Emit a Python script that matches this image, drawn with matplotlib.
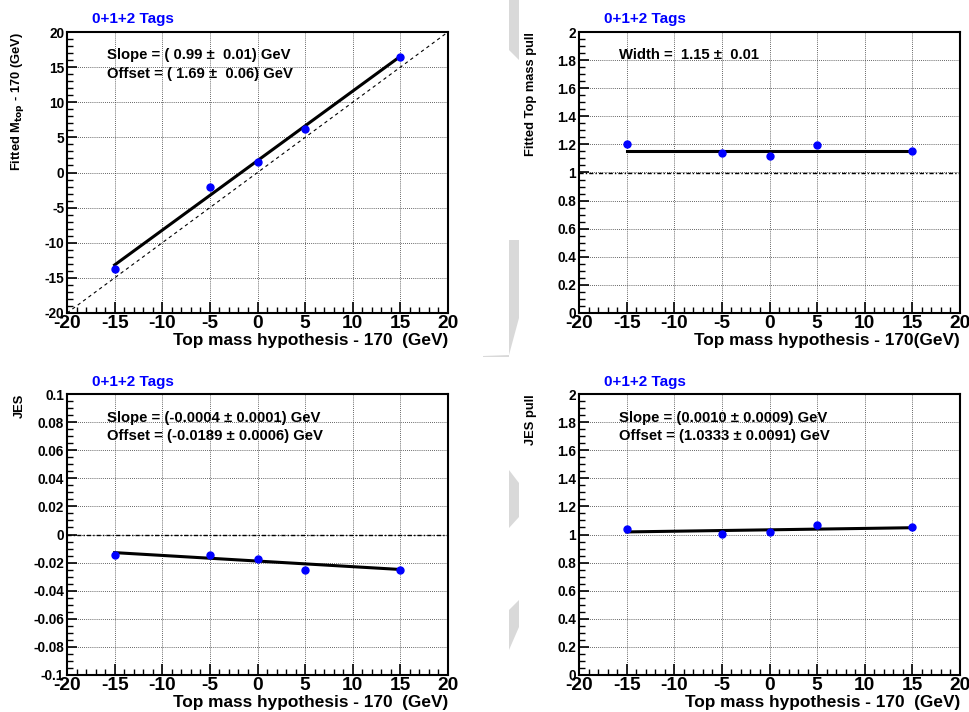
import matplotlib
matplotlib.use("Agg")
import matplotlib.pyplot as plt
import numpy as np
from matplotlib.ticker import MultipleLocator, FuncFormatter
from matplotlib.patches import Polygon

plt.rcParams['font.family'] = ['Liberation Sans', 'DejaVu Sans']
plt.rcParams['font.weight'] = 'bold'
plt.rcParams['axes.unicode_minus'] = False

# ---------------- data ----------------
mass_hyp = [-15, -5, 0, 5, 15]

fitted_mtop = [-13.7, -2.0, 1.5, 6.2, 16.5]
fitted_mtop_err = [0.25, 0.25, 0.25, 0.25, 0.25]
mtop_slope, mtop_offset = 0.99, 1.69

mtop_pull = [1.200, 1.138, 1.115, 1.196, 1.155]
mtop_pull_err = [0.012, 0.012, 0.012, 0.012, 0.012]
mtop_width = 1.155

jes = [-0.0148, -0.0145, -0.0175, -0.0255, -0.0252]
jes_err = [0.0008, 0.0008, 0.0008, 0.0008, 0.0008]
jes_slope, jes_offset = -0.0004, -0.0189

jes_pull = [1.040, 1.005, 1.020, 1.065, 1.050]
jes_pull_err = [0.008, 0.008, 0.008, 0.008, 0.008]
jespull_slope, jespull_offset = 0.0010, 1.0333

title_text = "0+1+2 Tags"
xlabel_a = "Top mass hypothesis - 170  (GeV)"
xlabel_b = "Top mass hypothesis - 170(GeV)"

W, H = 969, 712
fig = plt.figure(figsize=(W / 100, H / 100), dpi=100)

def px_ax(x0, y0, x1, y1):
    return fig.add_axes([x0 / W, 1 - y1 / H, (x1 - x0) / W, (y1 - y0) / H])

def fmt(v, pos):
    v = round(v, 6)
    if abs(v) < 1e-9:
        return "0"
    return "%g" % v

def style(ax, ymin, ymax, ymaj, ymin_sub):
    ax.set_xlim(-20, 20)
    ax.set_ylim(ymin, ymax)
    ax.xaxis.set_major_locator(MultipleLocator(5))
    ax.xaxis.set_minor_locator(MultipleLocator(1))
    ax.yaxis.set_major_locator(MultipleLocator(ymaj))
    ax.yaxis.set_minor_locator(MultipleLocator(ymin_sub))
    ax.yaxis.set_major_formatter(FuncFormatter(fmt))
    ax.xaxis.set_major_formatter(FuncFormatter(fmt))
    ax.tick_params(axis='both', which='both', direction='in', top=False, right=False, colors='black')
    ax.tick_params(axis='x', which='major', length=8, width=1.2, labelsize=13.8, pad=1.5)
    ax.tick_params(axis='x', which='minor', length=4, width=1.0)
    ax.tick_params(axis='y', which='major', length=7, width=1.2, labelsize=9.8, pad=2)
    ax.tick_params(axis='y', which='minor', length=4, width=1.0)
    for lab in ax.get_xticklabels() + ax.get_yticklabels():
        lab.set_fontweight('bold')
    ax.grid(True, which='major', linestyle=(0, (1, 1.5)), color='#333333', linewidth=0.6)
    ax.set_axisbelow(True)
    for s in ax.spines.values():
        s.set_linewidth(1.5)
        s.set_color('black')

def points(ax, y, yerr):
    ax.errorbar(mass_hyp, y, yerr=yerr, fmt='o', color='blue', ecolor='blue',
                markersize=5, elinewidth=1, capsize=0, zorder=5)

xs = np.array([mass_hyp[0], mass_hyp[-1]])

# ---------- top-left ----------
ax1 = px_ax(67, 32, 448, 313)
style(ax1, -20, 20, 5, 1)
ax1.plot([-20, 20], [-20, 20], color='black', linestyle=(0, (3, 3)), linewidth=0.8, zorder=3)
ax1.plot(xs, mtop_slope * xs + mtop_offset, color='black', linewidth=2.2, zorder=4)
points(ax1, fitted_mtop, fitted_mtop_err)

# ---------- top-right ----------
ax2 = px_ax(579, 32, 960, 313)
style(ax2, 0, 2, 0.2, 0.05)
ax2.axhline(1, color='black', linestyle=(0, (3, 1.5, 1, 1.5)), linewidth=1.0, zorder=3)
ax2.plot(xs, [mtop_width, mtop_width], color='black', linewidth=2.2, zorder=4)
points(ax2, mtop_pull, mtop_pull_err)

# ---------- bottom-left ----------
ax3 = px_ax(67, 394, 448, 675)
style(ax3, -0.1, 0.1, 0.02, 0.005)
ax3.axhline(0, color='black', linestyle=(0, (3, 1.5, 1, 1.5)), linewidth=1.0, zorder=3)
ax3.plot(xs, jes_slope * xs + jes_offset, color='black', linewidth=2.2, zorder=4)
points(ax3, jes, jes_err)

# ---------- bottom-right ----------
ax4 = px_ax(579, 394, 960, 675)
style(ax4, 0, 2, 0.2, 0.05)
ax4.plot(xs, jespull_slope * xs + jespull_offset, color='black', linewidth=2.2, zorder=4)
points(ax4, jes_pull, jes_pull_err)

def ftext(x, y, s, **kw):
    fig.text(x / W, 1 - y / H, s, **kw)

# titles
for (x, y) in [(92, 19), (604, 19), (92, 382), (604, 382)]:
    ftext(x, y, title_text, color='blue', fontsize=11, fontweight='bold', ha='left', va='center')

# x labels
xl = dict(fontsize=12.4, fontweight='bold', ha='right', va='center')
ftext(448, 341, xlabel_a, **xl)
ftext(960, 341, xlabel_b, **xl)
ftext(448, 703, xlabel_a, **xl)
ftext(960, 703, xlabel_a, **xl)

# y labels
yl = dict(fontsize=9.3, fontweight='bold', rotation=90, ha='center', va='top')
ftext(17, 32, r"Fitted M$_{\mathbf{top}}$ - 170 (GeV)", **yl)
ftext(531, 32, "Fitted Top mass pull", **yl)
ftext(20, 394, "JES", **yl)
ftext(531, 394, "JES pull", **yl)

# fit annotations
ann = dict(fontsize=10.7, fontweight='bold', ha='left', va='center')
ftext(107, 55, "Slope = ( 0.99 \u00b1  0.01) GeV", **ann)
ftext(107, 74, "Offset = ( 1.69 \u00b1  0.06) GeV", **ann)
ftext(619, 55, "Width =  1.15 \u00b1  0.01", **ann)
ftext(107, 418, "Slope = (-0.0004 \u00b1 0.0001) GeV", **ann)
ftext(107, 436, "Offset = (-0.0189 \u00b1 0.0006) GeV", **ann)
ftext(619, 418, "Slope = (0.0010 \u00b1 0.0009) GeV", **ann)
ftext(619, 436, "Offset = (1.0333 \u00b1 0.0091) GeV", **ann)

# faint grey page artefacts between panels
grey = '#d9d9d9'
shapes = [
    [(509, 0), (519, 0), (519, 60), (509, 50)],
    [(509, 240), (519, 240), (519, 318), (509, 355), (483, 356), (483, 357), (509, 357)],
    [(509, 470), (519, 483), (519, 517), (509, 528)],
    [(509, 610), (519, 600), (519, 627), (509, 650)],
]
for pts in shapes:
    fig.patches.append(Polygon([(x / W, 1 - y / H) for x, y in pts], closed=True,
                               transform=fig.transFigure, facecolor=grey, edgecolor='none', zorder=0))

fig.savefig("out.png", dpi=100)
